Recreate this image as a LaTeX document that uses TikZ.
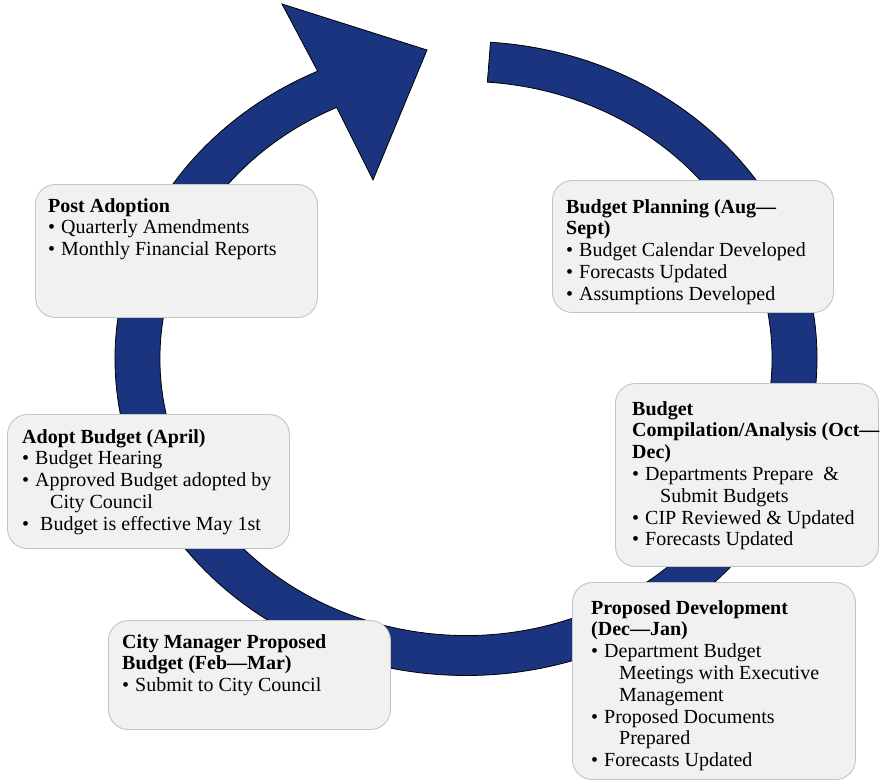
\documentclass[tikz,border=0pt]{standalone}
\usepackage{fontspec}
\setmainfont{Liberation Serif}
\usetikzlibrary{calc}
\definecolor{cycleblue}{HTML}{1B3480}
\definecolor{boxfill}{HTML}{F1F1F1}
\definecolor{boxline}{HTML}{C4C4C4}
% bullet item and hanging continuation line
\newcommand\bul[1]{\makebox[13pt][l]{\textbullet}#1}
\newcommand\cont[1]{\hspace*{28pt}#1}

\begin{document}
\begin{tikzpicture}[x=1pt,y=1pt,
  stage/.style={draw=boxline, fill=boxfill, line width=0.9pt, rounded corners=20pt,
    inner sep=0pt, anchor=south west},
  stagetext/.style={anchor=north west, inner sep=0pt, align=left,
    font=\fontsize{20}{21.8}\selectfont},
  cyclearrow/.style={fill=cycleblue, draw=black, line width=0.8pt, line join=miter}]
\useasboundingbox (0,0) rectangle (880,783);

% the circular process arrow
\coordinate (c) at (466,424.5);
\coordinate (headback) at (282,779);
\coordinate (headtip) at (427,733);
\coordinate (headfront) at (373,603);
\draw[cyclearrow]
  ($(c)+(86:351 and 317)$)
    arc[start angle=86, end angle=-245, x radius=351, y radius=317]
  -- (headback) -- (headtip) -- (headfront)
  -- ($(c)+(-245:306 and 277)$)
    arc[start angle=-245, end angle=86, x radius=306, y radius=277]
  -- cycle;

% stage boxes
\node[stage, minimum width=282pt, minimum height=133pt] (postbox) at (35,465) {};
\node[stage, minimum width=281pt, minimum height=132pt] (planbox) at (552,470) {};
\node[stage, minimum width=263pt, minimum height=183pt] (compbox) at (615,216) {};
\node[stage, minimum width=282pt, minimum height=134pt] (adoptbox) at (7,234) {};
\node[stage, minimum width=282pt, minimum height=109pt] (cmbox) at (108,53) {};
\node[stage, minimum width=283pt, minimum height=197pt] (propbox) at (572,3) {};

% stage texts
\node[stagetext] (posttext) at (48,586.3) {\strut\textbf{Post Adoption}\\
  \bul{Quarterly Amendments}\\
  \bul{Monthly Financial Reports}};
\node[stagetext] (plantext) at (566,585.3) {\strut\textbf{Budget Planning (Aug—}\\
  \textbf{Sept)}\\
  \bul{Budget Calendar Developed}\\
  \bul{Forecasts Updated}\\
  \bul{Assumptions Developed}};
\node[stagetext] (comptext) at (632,383.3) {\strut\textbf{Budget}\\
  \textbf{Compilation/Analysis (Oct—}\\
  \textbf{Dec)}\\
  \bul{Departments Prepare \ \&}\\
  \cont{Submit Budgets}\\
  \bul{CIP Reviewed \& Updated}\\
  \bul{Forecasts Updated}};
\node[stagetext] (adopttext) at (22,355.3) {\strut\textbf{Adopt Budget (April)}\\
  \bul{Budget Hearing}\\
  \bul{Approved Budget adopted by}\\
  \cont{City Council}\\
  \bul{\ Budget is effective May 1st}};
\node[stagetext] (cmtext) at (122,150.3) {\strut\textbf{City Manager Proposed}\\
  \textbf{Budget (Feb—Mar)}\\
  \bul{Submit to City Council}};
\node[stagetext] (proptext) at (591,184.3) {\strut\textbf{Proposed Development}\\
  \textbf{(Dec—Jan)}\\
  \bul{Department Budget}\\
  \cont{Meetings with Executive}\\
  \cont{Management}\\
  \bul{Proposed Documents}\\
  \cont{Prepared}\\
  \bul{Forecasts Updated}};
\end{tikzpicture}
\end{document}
